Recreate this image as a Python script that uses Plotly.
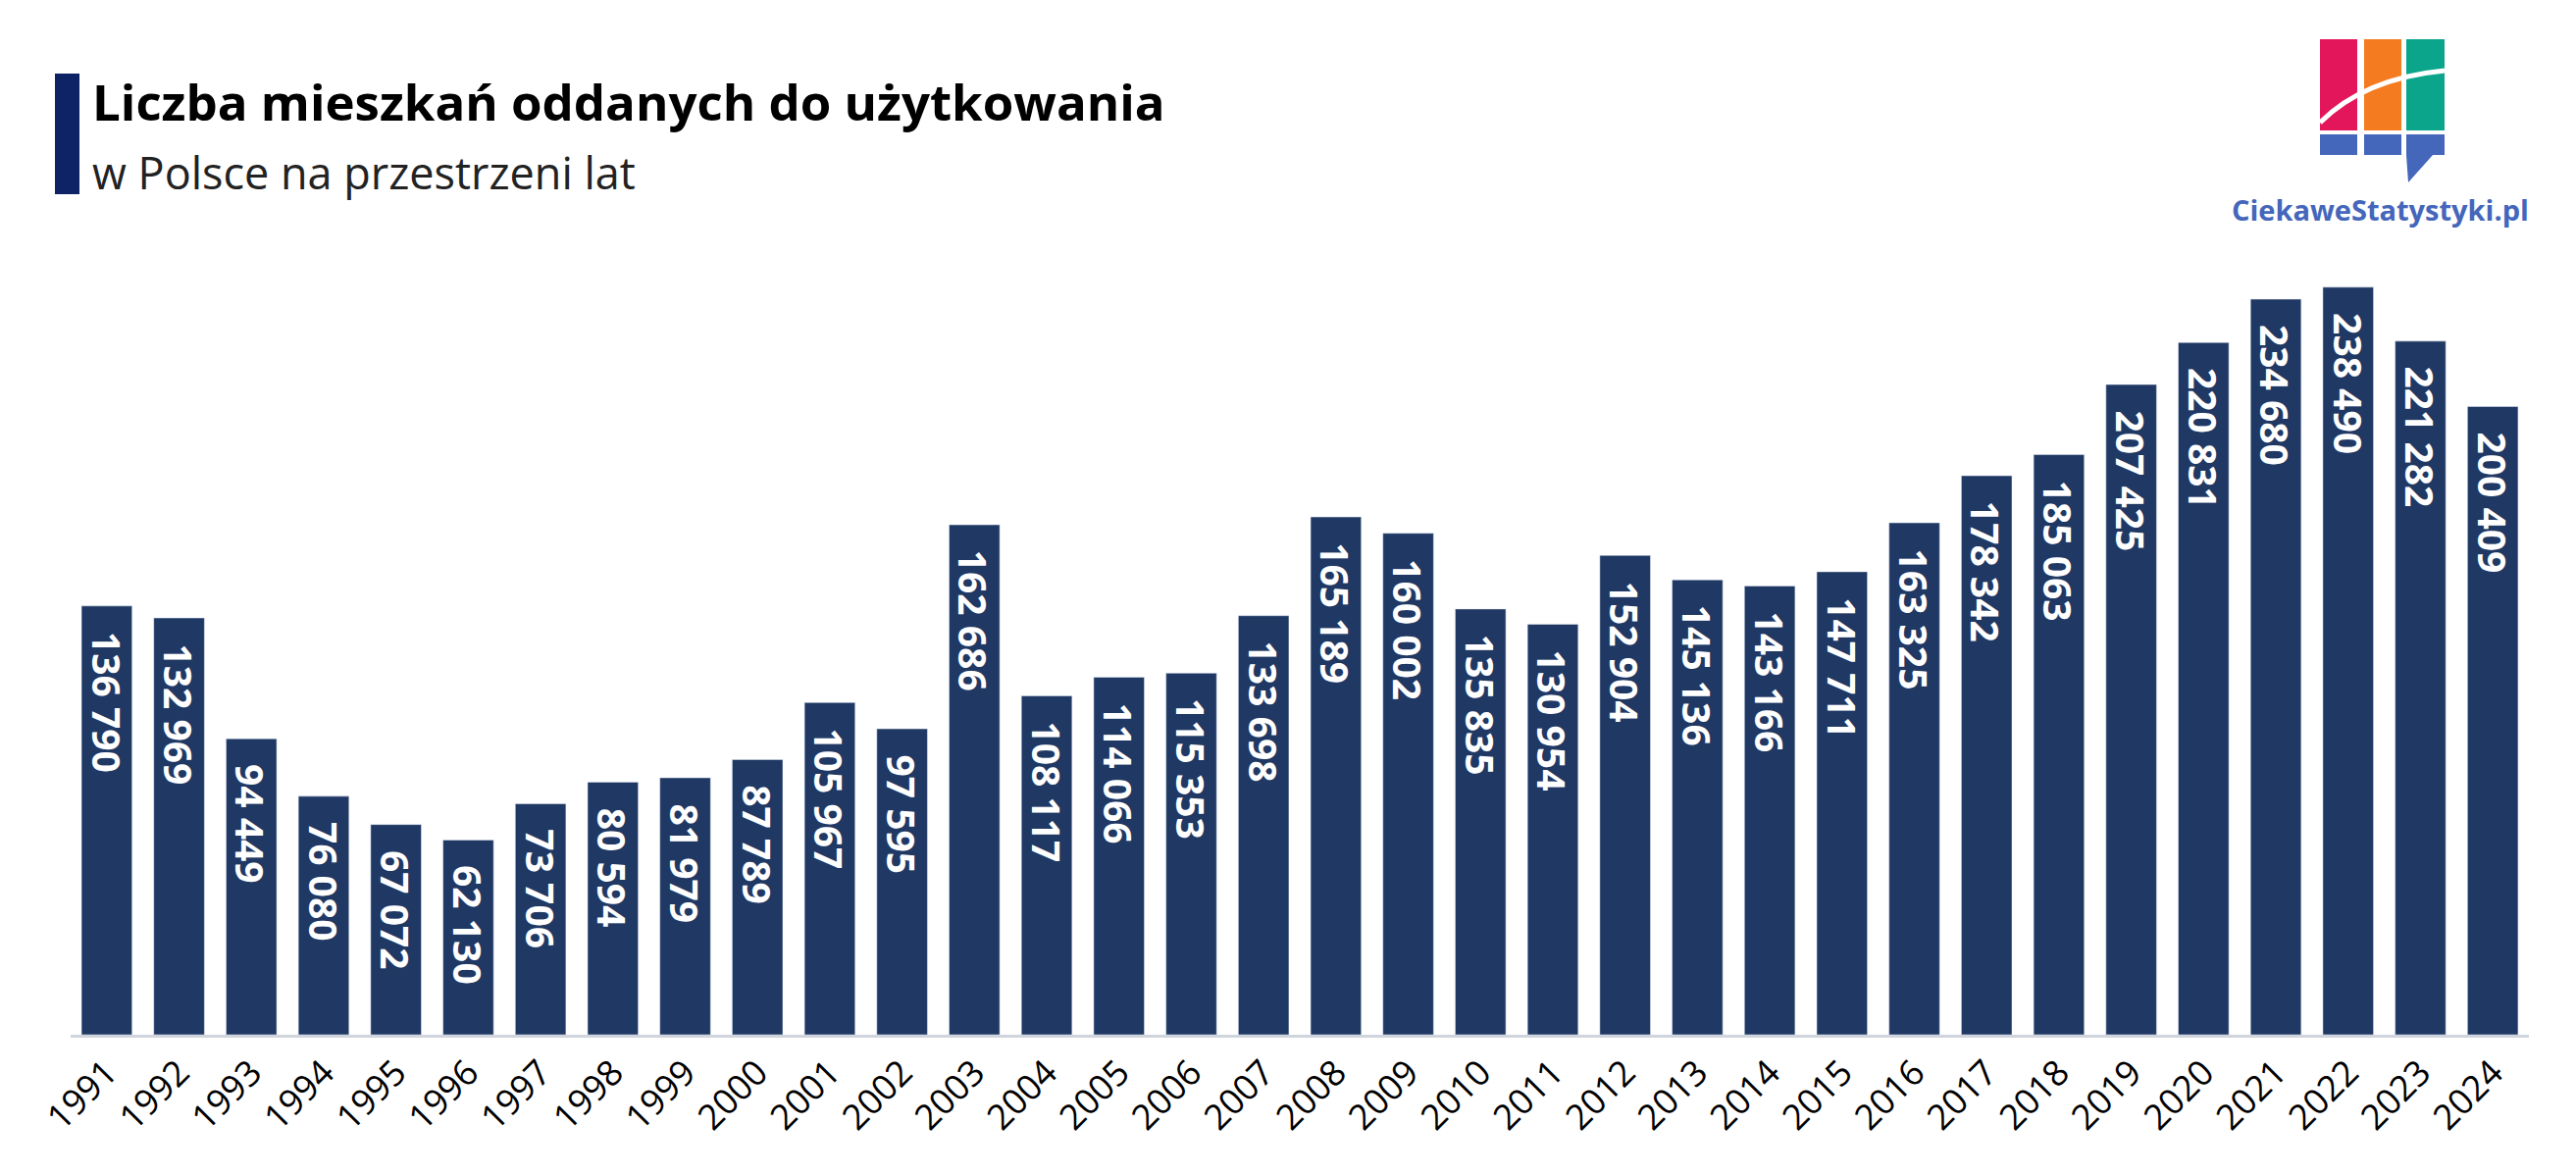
import plotly.graph_objects as go

years = [str(y) for y in range(1991, 2025)]
flats = [136790, 132969, 94449, 76080, 67072, 62130, 73706, 80594, 81979, 87789,
         105967, 97595, 162686, 108117, 114066, 115353, 133698, 165189, 160002, 135835,
         130954, 152904, 145136, 143166, 147711, 163325, 178342, 185063, 207425, 220831,
         234680, 238490, 221282, 200409]
labels = [f"{v:,}".replace(",", " ") for v in flats]

W, H = 2626, 1198
L, R, T, B = 64, 2570, 280, 1047


def px(x):
    return (x - L) / (R - L)


def py(y):
    return (B - y) / (B - T)


fig = go.Figure(go.Bar(x=years, y=flats, marker_color="#203864", hoverinfo="x+y"))

# value labels; category axis -> x given as category index
annotations = [
    dict(x=i, y=v, xref="x", yref="y", text=f"<b>{t}</b>", textangle=90,
         yanchor="top", yshift=-24, showarrow=False,
         font=dict(family="Open Sans", size=39, color="white"))
    for i, (v, t) in enumerate(zip(flats, labels))
]

shapes = []
# title accent bar
shapes.append(dict(type="rect", xref="paper", yref="paper", x0=px(48), x1=px(73),
                   y0=py(190), y1=py(67), fillcolor="#0d2366", line_width=0))
# logo
dx, dy = -8, -8
for x0, x1, c in [(2365, 2403, "#e3165b"), (2410, 2448, "#f47b20"), (2453, 2492, "#0aa58a")]:
    shapes.append(dict(type="rect", xref="paper", yref="paper", x0=px(x0 + dx), x1=px(x1 + dx),
                       y0=py(133 + dy), y1=py(40 + dy), fillcolor=c, line_width=0))
    shapes.append(dict(type="rect", xref="paper", yref="paper", x0=px(x0 + dx), x1=px(x1 + dx),
                       y0=py(158 + dy), y1=py(137 + dy), fillcolor="#4466bb", line_width=0))
tri = (f"M {px(2453 + dx)} {py(158 + dy)} L {px(2480 + dx)} {py(158 + dy)} "
       f"L {px(2455 + dx)} {py(186 + dy)} Z")
shapes.append(dict(type="path", xref="paper", yref="paper", path=tri,
                   fillcolor="#4466bb", line_width=0))
arc = (f"M {px(2365 + dx)} {py(125 + dy)} Q {px(2410 + dx)} {py(80 + dy)} "
       f"{px(2492 + dx)} {py(72 + dy)}")
shapes.append(dict(type="path", xref="paper", yref="paper", path=arc,
                   line=dict(color="white", width=5)))

annotations += [
    dict(text="<b>Liczba mieszkań oddanych do użytkowania</b>", xref="paper", yref="paper",
         x=px(84), y=py(95), xanchor="left", yanchor="middle", showarrow=False,
         font=dict(family="Open Sans", size=51, color="black")),
    dict(text="w Polsce na przestrzeni lat", xref="paper", yref="paper",
         x=px(84), y=py(168), xanchor="left", yanchor="middle", showarrow=False,
         font=dict(family="Open Sans", size=45, color="#222222")),
    dict(text="<b>CiekaweStatystyki.pl</b>", xref="paper", yref="paper",
         x=px(2418), y=py(206), xanchor="center", yanchor="middle", showarrow=False,
         font=dict(family="Open Sans", size=29, color="#4466bb")),
]

fig.update_layout(
    width=W, height=H,
    margin=dict(l=L, r=W - R, t=T, b=H - B),
    paper_bgcolor="white", plot_bgcolor="white",
    bargap=0.3, showlegend=False,
    shapes=shapes, annotations=annotations,
    xaxis=dict(type="category", range=[-0.5, len(years) - 0.5], tickangle=-45,
               tickfont=dict(family="Open Sans", size=36, color="black"),
               showline=True, linecolor="#d0d4dc", linewidth=3, ticks=""),
    yaxis=dict(range=[0, 240000], visible=False),
)

fig.write_html("out.html")
